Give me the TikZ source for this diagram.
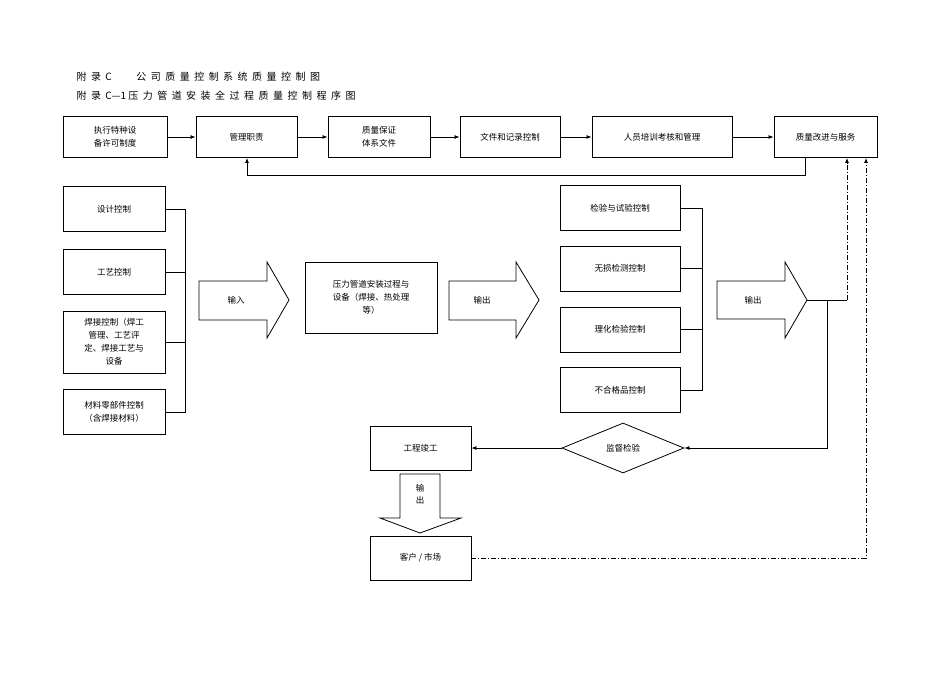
\documentclass[tikz,border=0pt]{standalone}
\usepackage{fontspec}
\setmainfont{Noto Sans CJK SC}
\usetikzlibrary{shapes.geometric,arrows.meta}
\begin{document}
\begin{tikzpicture}[x=1pt,y=-1pt,
  box/.style={draw,line width=0.9pt,inner sep=0pt,align=center,font=\fontsize{8.5}{13}\selectfont},
  ln/.style={line width=0.8pt},
  arr/.style={ln,-{Latex[length=5pt,width=4pt]}},
  dd/.style={line width=0.8pt,dash pattern=on 5pt off 2pt on 1pt off 2pt},
  bigarr/.style={draw,line width=0.8pt,fill=white}]
\useasboundingbox (0,0) rectangle (950,672);
\node[anchor=west,font=\fontsize{10}{12}\selectfont] (t1) at (73,77) {附\ \ 录\ \ C\qquad\ \ 公\ \ 司\ \ 质\ \ 量\ \ 控\ \ 制\ \ 系\ \ 统\ \ 质\ \ 量\ \ 控\ \ 制\ \ 图};
\node[anchor=west,font=\fontsize{10}{12}\selectfont] (t2) at (73,96) {附\ \ 录\ \ C—1\ 压\ \ 力\ \ 管\ \ 道\ \ 安\ \ 装\ \ 全\ \ 过\ \ 程\ \ 质\ \ 量\ \ 控\ \ 制\ \ 程\ \ 序\ \ 图};
% top row
\node[box,minimum width=104,minimum height=41] (a) at (115,137) {执行特种设\\备许可制度};
\node[box,minimum width=101,minimum height=41] (b) at (246.5,137) {管理职责};
\node[box,minimum width=102,minimum height=41] (c) at (379,137) {质量保证\\体系文件};
\node[box,minimum width=100,minimum height=41] (d) at (510,137) {文件和记录控制};
\node[box,minimum width=140,minimum height=41] (e) at (662,137) {人员培训考核和管理};
\node[box,minimum width=103,minimum height=41] (f) at (825.5,137) {质量改进与服务};
\draw[arr] (a) -- (b); \draw[arr] (b) -- (c); \draw[arr] (c) -- (d);
\draw[arr] (d) -- (e); \draw[arr] (e) -- (f);
\draw[arr] (f.south -| 805,0) -- (805,175) -- (247,175) -- (b.south -| 247,0);
% left column
\node[box,minimum width=102,minimum height=45] (l1) at (114,209) {设计控制};
\node[box,minimum width=102,minimum height=45] (l2) at (114,272) {工艺控制};
\node[box,minimum width=102,minimum height=62] (l3) at (114,342) {焊接控制（焊工\\管理、工艺评\\定、焊接工艺与\\设备};
\node[box,minimum width=102,minimum height=45] (l4) at (114,412) {材料零部件控制\\（含焊接材料）};
\draw[ln] (l1.east) -- (185,209) -- (185,412) -- (l4.east);
\draw[ln] (l2.east) -- (185,272); \draw[ln] (l3.east) -- (185,342);
% input arrow
\draw[bigarr] (199,281) -- (267,281) -- (267,262) -- (289,300) -- (267,338) -- (267,320) -- (199,320) -- cycle;
\node[font=\fontsize{8.5}{10}\selectfont] (in) at (236,300) {输入};
\node[box,minimum width=132,minimum height=71] (p) at (371,297.5) {压力管道安装过程与\\设备（焊接、热处理\\等）};
\draw[bigarr] (449,281) -- (516,281) -- (516,262) -- (539,300) -- (516,338) -- (516,320) -- (449,320) -- cycle;
\node[font=\fontsize{8.5}{10}\selectfont] (o1) at (482,300) {输出};
% right column
\node[box,minimum width=120,minimum height=45] (r1) at (620,208) {检验与试验控制};
\node[box,minimum width=120,minimum height=45] (r2) at (620,268.5) {无损检测控制};
\node[box,minimum width=120,minimum height=45] (r3) at (620,329.5) {理化检验控制};
\node[box,minimum width=120,minimum height=45] (r4) at (620,390) {不合格品控制};
\draw[ln] (r1.east) -- (702,208) -- (702,390) -- (r4.east);
\draw[ln] (r2.east) -- (702,268.5); \draw[ln] (r3.east) -- (702,329.5);
\draw[bigarr] (717,281) -- (785,281) -- (785,262) -- (807,300) -- (785,338) -- (785,319) -- (717,319) -- cycle;
\node[font=\fontsize{8.5}{10}\selectfont] (o2) at (753,300) {输出};
\coordinate (tip) at (807,300);
% diamond and bottom
\node[draw,line width=0.8pt,diamond,aspect=2.4,minimum width=122,minimum height=50,inner sep=0pt,font=\fontsize{8.5}{10}\selectfont] (dm) at (623,448) {监督检验};
\draw[ln] (tip) -- (847,300);
\draw[dd,-{Latex[length=5pt,width=4pt]}] (847,300) -- (f.south -| 847,0);
\draw[arr] (827,300) -- (827,448) -- (dm.east);
\node[box,minimum width=101,minimum height=44] (g) at (420.5,448) {工程竣工};
\draw[arr] (dm.west) -- (g.east);
\draw[bigarr] (400,474) -- (440,474) -- (440,518) -- (461,518) -- (420,533) -- (380,518) -- (400,518) -- cycle;
\node[font=\fontsize{8.5}{12}\selectfont,align=center] (o3) at (420,494) {输\\出};
\node[box,minimum width=101,minimum height=44] (h) at (420.5,558) {客户 / 市场};
\draw[dd,-{Latex[length=5pt,width=4pt]}] (h.east) -- (866,558) -- (f.south -| 866,0);
\end{tikzpicture}
\end{document}
